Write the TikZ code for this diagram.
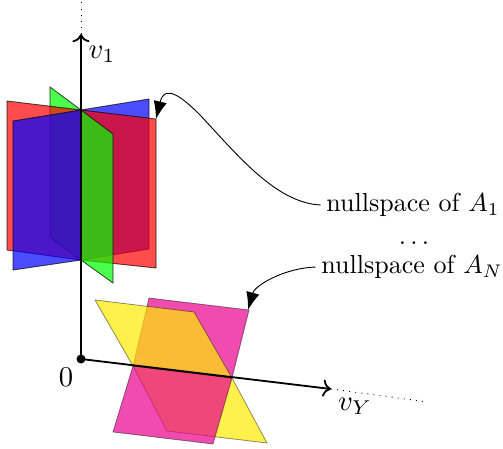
\documentclass[tikz,border=0pt]{standalone}
\usetikzlibrary{arrows.meta, positioning}
\definecolor{planeRed}{HTML}{FF0000}
\definecolor{planeBlue}{HTML}{0000FF}
\definecolor{planeGreen}{HTML}{00FF00}
\definecolor{planeYellow}{HTML}{FFEB00}
\definecolor{planeMagenta}{HTML}{E9008E}
\tikzset{
  axisLine/.style={->, line width=0.7pt},
  axisDots/.style={dotted, line width=0.35pt},
  axisLabel/.style={scale=1.1},
  callout/.style={-{Latex[length=2.4mm]}, line width=0.35pt},
  edgeP/.style={draw=black, draw opacity=0.45, fill opacity=0.7, line width=0.3pt},
  planeR/.style={edgeP, fill=planeRed},
  planeB/.style={edgeP, fill=planeBlue},
  planeG/.style={edgeP, fill=planeGreen},
  planeY/.style={edgeP, fill=planeYellow},
  planeM/.style={edgeP, fill=planeMagenta},
}
\begin{document}
\begin{tikzpicture}[x=0.384pt, y=-0.384pt, inner sep=2pt]
  \useasboundingbox (0,0) rectangle (503,449);
  % left of the axis
  \fill[planeG] (50,87) -- (81,110) -- (81,260) -- (50,237) -- cycle;
  \draw[planeG, fill=none] (81,110) -- (50,87) -- (50,237) -- (81,260);
  \fill[planeR] (7,101) -- (81,110) -- (81,260) -- (7,250) -- cycle;
  \draw[planeR, fill=none] (81,110) -- (7,101) -- (7,250) -- (81,260);
  \fill[planeB] (13,121) -- (81,110) -- (81,260) -- (13,270) -- cycle;
  \draw[planeB, fill=none] (81,110) -- (13,121) -- (13,270) -- (81,260);
  % right of the axis
  \fill[planeB] (81,110) -- (149,99) -- (149,249) -- (81,260) -- cycle;
  \draw[planeB, fill=none] (81,110) -- (149,99) -- (149,249) -- (81,260);
  \fill[planeR] (81,110) -- (156,119) -- (156,268) -- (81,260) -- cycle;
  \draw[planeR, fill=none] (81,110) -- (156,119) -- (156,268) -- (81,260);
  \fill[planeG] (81,110) -- (113,134) -- (113,283) -- (81,260) -- cycle;
  \draw[planeG, fill=none] (81,110) -- (113,134) -- (113,283) -- (81,260);
  % second group, above the axis
  \draw[planeM] (133,366) -- (149,298) -- (249,310) -- (232,378) -- cycle;
  \draw[planeY] (133,366) -- (95,300) -- (194,312) -- (232,378) -- cycle;
  % below the axis
  \draw[planeY] (133,366) -- (167,431) -- (267,443) -- (232,378) -- cycle;
  \draw[planeM] (133,366) -- (113,432) -- (213,444) -- (232,378) -- cycle;

  \coordinate (o) at (81,359);
  \coordinate (vOneEnd) at (81,34);
  \coordinate (vOneFar) at (81,0);
  \coordinate (vYEnd) at (331,389);
  \coordinate (vYFar) at (428,402);
  \coordinate (cornerOne) at (156,119);
  \coordinate (cornerN) at (248,310);
  \coordinate (bend) at (200,115);

  \draw[axisLine] (o) -- (vOneEnd);
  \draw[axisLine] (o) -- (vYEnd);
  \draw[axisDots] (vOneEnd) -- (vOneFar);
  \draw[axisDots] (vYEnd) -- (vYFar);
  \fill (o) circle (4.5);

  \node[axisLabel] (zero) at (66,377) {$0$};
  \node[axisLabel] (vOne) at (102,54) {$v_1$};
  \node[axisLabel] (vY) at (355,406) {$v_Y$};
  \node (nullOne) at (413,205) {nullspace of $A_1$};
  \node (dotsN) at (414,243) {$\dots$};
  \node (nullN) at (412,267) {nullspace of $A_N$};

  \draw[callout] (nullOne.west) .. controls (275,203) and (235,152) .. (bend)
    .. controls (185,100) and (165,82) .. (cornerOne);
  \draw[callout] (nullN.west) .. controls (285,268) and (255,285) .. (cornerN);
\end{tikzpicture}
\end{document}
